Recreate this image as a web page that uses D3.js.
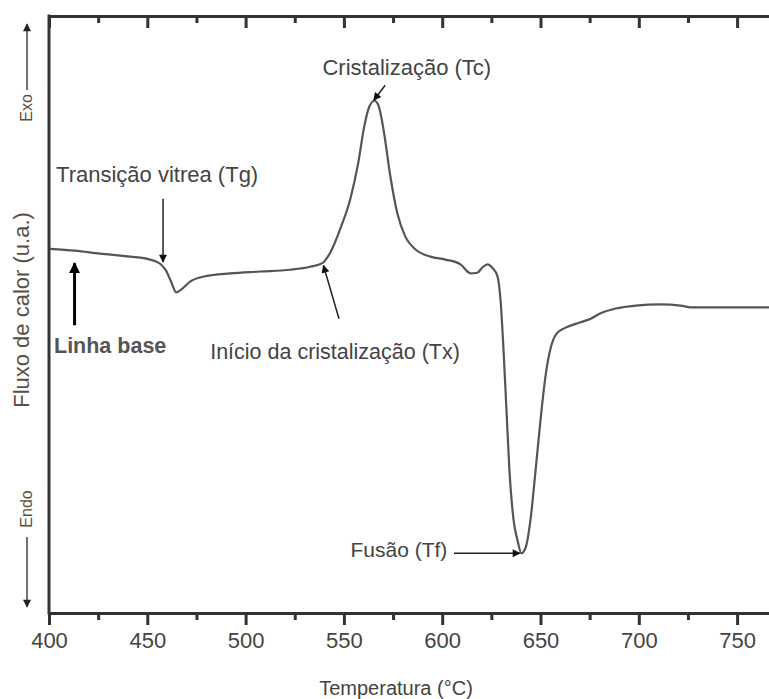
<!DOCTYPE html>
<html>
<head>
<meta charset="utf-8">
<script src="https://cdn.jsdelivr.net/npm/d3@7"></script>
<style>
  body { margin: 0; background: #fff; }
  svg text { font-family: "Liberation Sans", Arial, sans-serif; }
</style>
</head>
<body>
<svg id="chart" width="769" height="699"></svg>
<script>
// DSC curve: temperature (°C) and heat flow (u.a.)
const temperature = [400.5, 413.2, 426.0, 441.2, 451.4, 456.5, 459.6, 462.1, 464.7, 467.7, 471.8, 479.4,
  492.2, 507.4, 522.7, 532.9, 539.0, 543.1, 548.2, 553.3, 557.3, 560.4, 562.9, 565.5, 567.5, 570.1,
  573.6, 577.2, 581.3, 586.4, 594.0, 601.6, 609.3, 614.4, 617.9, 620.5, 623.0, 625.6, 628.1, 629.7,
  631.2, 632.7, 634.2, 636.3, 638.3, 640.3, 642.4, 644.9, 647.5, 650.0, 652.6, 655.1, 658.2, 662.8,
  670.4, 675.5, 680.6, 688.2, 698.4, 711.1, 721.3, 726.4, 736.6, 751.9, 766.6]
const heatFlow = [61.0, 60.7, 60.2, 59.7, 59.2, 58.5, 57.3, 55.5, 53.7, 54.3, 55.5, 56.4,
  56.9, 57.2, 57.5, 58.0, 58.6, 60.4, 64.4, 69.4, 75.4, 81.6, 84.8, 85.8, 85.1, 81.1,
  73.2, 66.9, 63.0, 60.9, 59.7, 59.2, 58.4, 56.9, 57.0, 57.9, 58.4, 57.8, 56.4, 52.3,
  44.0, 33.9, 23.9, 15.6, 12.2, 10.0, 10.9, 15.6, 23.9, 32.3, 39.8, 44.3, 46.8, 47.8,
  48.7, 49.3, 50.2, 51.0, 51.5, 51.7, 51.5, 51.2, 51.2, 51.2, 51.2]

const majorTicks = [400, 450, 500, 550, 600, 650, 700, 750]
const minorTicks = [425, 475, 525, 575, 625, 675, 725]

// annotations: label, label anchor point, arrow start and end (temperature, heat flow)
const notes = [
  {label: "Transição vitrea (Tg)", t: 455, v: 72.2, size: 22, from: [458, 69.4], to: [458, 58.8]},
  {label: "Cristalização (Tc)", t: 582, v: 90.2, size: 22, from: [571, 88.4], to: [565.2, 85.9]},
  {label: "Início da cristalização (Tx)", t: 545.5, v: 42.6, size: 21.5, from: [547.5, 49.3], to: [539.6, 58.2]},
  {label: "Fusão (Tf)", t: 578, v: 9.4, size: 21, from: [606, 10.0], to: [639.5, 10.0]}
]

const svg = d3.select("#chart")
const padL = 49, padR = 769, padT = 16, padB = 613

const x = d3.scaleLinear().domain([400, 400 + (padR - padL) / 1.966]).range([padL, padR])
const y = d3.scaleLinear().domain([0, 100]).range([padB, padT])

// arrowheads
const defs = svg.append("defs")
function marker(id, w, h, color) {
  defs.append("marker")
    .attr("id", id)
    .attr("viewBox", "0 0 10 10")
    .attr("refX", 9).attr("refY", 5)
    .attr("markerWidth", w).attr("markerHeight", h)
    .attr("markerUnits", "userSpaceOnUse")
    .attr("orient", "auto")
    .append("path")
    .attr("d", "M0,0 L10,5 L0,10 Z")
    .attr("fill", color)
}
marker("head", 12, 8, "#111")
marker("headBig", 14, 11, "#000")
marker("headSide", 12, 8, "#222")

function styleAxis(g) {
  g.selectAll(".tick line")
    .attr("x1", 0).attr("x2", 0).attr("y1", 0)
    .attr("stroke", "#333").attr("stroke-width", 3)
    .each(function () { this.getBBox(); getComputedStyle(this).stroke })
  g.selectAll(".tick text").attr("font-size", 22).attr("fill", "#444")
}

// bottom axis, ticks outside
svg.append("g")
  .attr("transform", "translate(0," + padB + ")")
  .call(d3.axisBottom(x).tickValues(minorTicks).tickSize(7).tickFormat(""))
  .call(g => g.select(".domain").remove())
  .call(styleAxis)
svg.append("g")
  .attr("transform", "translate(0," + padB + ")")
  .call(d3.axisBottom(x).tickValues(majorTicks).tickSize(12).tickSizeOuter(0).tickPadding(7).tickFormat(d3.format("d")))
  .call(g => g.select(".domain").attr("stroke", "#333").attr("stroke-width", 3))
  .call(styleAxis)

// top axis, ticks pointing inside
svg.append("g")
  .attr("transform", "translate(0," + padT + ")")
  .call(d3.axisBottom(x).tickValues(minorTicks).tickSize(7).tickFormat(""))
  .call(g => g.select(".domain").remove())
  .call(styleAxis)
svg.append("g")
  .attr("transform", "translate(0," + padT + ")")
  .call(d3.axisBottom(x).tickValues(majorTicks).tickSize(12).tickSizeOuter(0).tickFormat(""))
  .call(g => g.select(".domain").attr("stroke", "#333").attr("stroke-width", 3))
  .call(styleAxis)

// left axis line, no ticks
svg.append("line")
  .attr("x1", padL).attr("x2", padL)
  .attr("y1", padT - 1.5).attr("y2", padB + 1.5)
  .attr("stroke", "#333").attr("stroke-width", 3)

// axis titles
svg.append("text")
  .attr("x", 396).attr("y", 695)
  .attr("text-anchor", "middle")
  .attr("font-size", 20).attr("fill", "#444")
  .text("Temperatura (°C)")

svg.append("text")
  .attr("transform", "translate(29,310) rotate(-90)")
  .attr("text-anchor", "middle")
  .attr("font-size", 22).attr("fill", "#5a5040")
  .text("Fluxo de calor (u.a.)")

svg.append("text")
  .attr("transform", "translate(32,108) rotate(-90)")
  .attr("text-anchor", "middle")
  .attr("font-size", 16).attr("fill", "#5a5040")
  .text("Exo")
svg.append("line")
  .attr("x1", 27).attr("x2", 27).attr("y1", 90).attr("y2", 24)
  .attr("stroke", "#444").attr("stroke-width", 1.5)
  .attr("marker-end", "url(#headSide)")

svg.append("text")
  .attr("transform", "translate(32,509) rotate(-90)")
  .attr("text-anchor", "middle")
  .attr("font-size", 16).attr("fill", "#5a5040")
  .text("Endo")
svg.append("line")
  .attr("x1", 27).attr("x2", 27).attr("y1", 537).attr("y2", 607)
  .attr("stroke", "#444").attr("stroke-width", 1.5)
  .attr("marker-end", "url(#headSide)")

// the DSC curve
const curve = d3.line()
  .x((d, i) => x(temperature[i]))
  .y((d, i) => y(heatFlow[i]))
  .curve(d3.curveMonotoneX)

svg.append("path")
  .datum(heatFlow)
  .attr("d", curve)
  .attr("fill", "none")
  .attr("stroke", "#555")
  .attr("stroke-width", 2.2)

// annotations
notes.forEach(n => {
  svg.append("text")
    .attr("x", x(n.t)).attr("y", y(n.v))
    .attr("text-anchor", "middle")
    .attr("font-size", n.size).attr("fill", "#444")
    .text(n.label)
  svg.append("line")
    .attr("x1", x(n.from[0])).attr("y1", y(n.from[1]))
    .attr("x2", x(n.to[0])).attr("y2", y(n.to[1]))
    .attr("stroke", "#222").attr("stroke-width", 1.5)
    .attr("marker-end", "url(#head)")
})

// baseline label and arrow
svg.append("text")
  .attr("x", 54).attr("y", 353)
  .attr("font-weight", "bold")
  .attr("font-size", 21.5).attr("fill", "#555")
  .text("Linha base")
svg.append("line")
  .attr("x1", x(413)).attr("y1", y(48.2))
  .attr("x2", x(413)).attr("y2", y(58.6))
  .attr("stroke", "#000").attr("stroke-width", 3)
  .attr("marker-end", "url(#headBig)")
</script>
</body>
</html>
